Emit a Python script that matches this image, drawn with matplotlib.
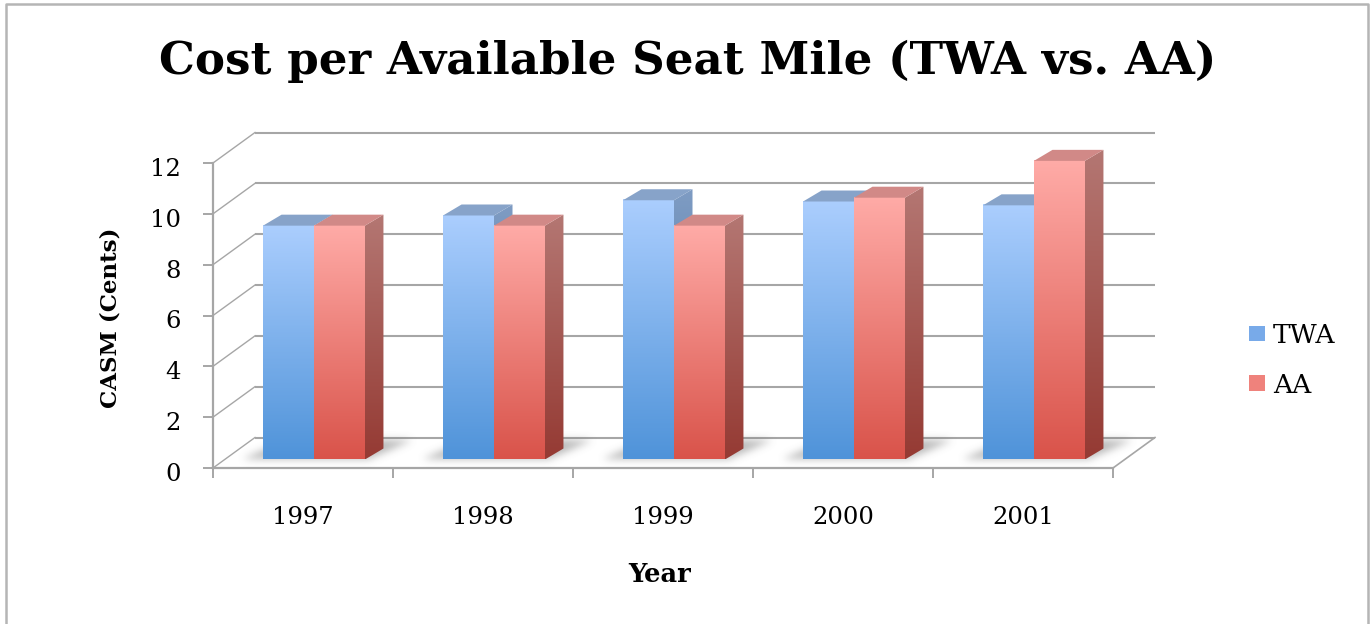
import numpy as np
import matplotlib
matplotlib.use("Agg")
import matplotlib.pyplot as plt
from matplotlib.patches import Polygon, Patch
from matplotlib.lines import Line2D
from matplotlib.path import Path
from matplotlib.transforms import Affine2D, IdentityTransform
from matplotlib.colors import to_rgb

# ---- data -------------------------------------------------------------
years = ["1997", "1998", "1999", "2000", "2001"]
twa_casm = [9.2, 9.6, 10.2, 10.15, 10.0]
aa_casm = [9.2, 9.2, 9.2, 10.3, 11.75]
series_names = ["TWA", "AA"]
y_ticks = [0, 2, 4, 6, 8, 10, 12]

title = "Cost per Available Seat Mile (TWA vs. AA)"
y_label = "CASM (Cents)"
x_label = "Year"

# ---- style ------------------------------------------------------------
W, H, DPI = 1371, 624, 100
SERIF = "DejaVu Serif"
plt.rcParams["font.family"] = [SERIF]

GRID = "#a6a6a6"
BORDER = "#b5b5b5"
# (front bottom, front top, side bottom, side top, top face, legend swatch)
PALETTE = {
    "TWA": ("#4f93d9", "#abcefe", "#3f6fa4", "#7f9cc3", "#87a3c9", "#78aae9"),
    "AA": ("#d9534a", "#ffaba7", "#953a33", "#b47773", "#d18987", "#ef827c"),
}

WALL = np.array([42.0, 30.5])       # depth of the plot box (px)
BAR_SHIFT = np.array([11.0, 8.5])   # columns stand a little behind the front plane
BAR_DEPTH = np.array([18.5, 11.0])  # visible depth of each column (px)
BAR_W = 0.283

fig = plt.figure(figsize=(W / DPI, H / DPI), dpi=DPI)
fig.patch.set_facecolor("white")
ax = fig.add_axes([213 / W, 1 - 468 / H, 900 / W, 305 / H])
ax.set_autoscale_on(False)
ax.set_xlim(0, len(years))
ax.set_ylim(0, 12)
ax.patch.set_visible(False)

_z = [1.0]


def nz():
    _z[0] += 1
    return _z[0]


def shifted(offset):
    return ax.transData + Affine2D().translate(*offset)


def px(x, y, offset=(0.0, 0.0)):
    return ax.transData.transform((x, y)) + np.asarray(offset)


def gradient(c_bottom, c_top, n=256):
    a = np.array(to_rgb(c_bottom))
    b = np.array(to_rgb(c_top))
    t = np.linspace(0, 1, n)[:, None]
    return (a + (b - a) * t)[:, None, :]


# ---- box: back wall, side wall and floor --------------------------------
n_cat = len(years)
for t in y_ticks:
    ax.plot([0, n_cat], [t, t], color=GRID, lw=1.5, transform=shifted(WALL),
            clip_on=False, zorder=nz(), solid_capstyle="butt")
    p = px(0, t)
    ax.add_line(Line2D([p[0], p[0] + WALL[0]], [p[1], p[1] + WALL[1]],
                       transform=IdentityTransform(), color=GRID, lw=1.0,
                       clip_on=False, zorder=nz()))
p = px(n_cat, 0)
ax.add_line(Line2D([p[0], p[0] + WALL[0]], [p[1], p[1] + WALL[1]],
                   transform=IdentityTransform(), color=GRID, lw=1.2,
                   clip_on=False, zorder=nz()))


# ---- soft floor shadows behind each pair of columns ------------------------
def gauss_blur(img, sigma):
    r = int(3 * sigma)
    k = np.exp(-0.5 * (np.arange(-r, r + 1) / sigma) ** 2)
    k /= k.sum()
    img = np.apply_along_axis(lambda m: np.convolve(m, k, mode="same"), 0, img)
    img = np.apply_along_axis(lambda m: np.convolve(m, k, mode="same"), 1, img)
    return img


for i in range(n_cat):
    xl = i + 0.5 - BAR_W
    xr = i + 0.5 + BAR_W
    fl = px(xl, 0, BAR_SHIFT) + np.array([-22.0, -1.0])
    fr = px(xr, 0, BAR_SHIFT) + np.array([2.0, -1.0])
    back = np.array([44.0, 19.0])
    poly = np.array([fl, fr, fr + back, fl + back])
    x0, y0 = poly.min(axis=0) - 12
    x1, y1 = poly.max(axis=0) + 12
    gx, gy = np.meshgrid(np.arange(x0, x1), np.arange(y0, y1))
    inside = Path(poly).contains_points(np.c_[gx.ravel(), gy.ravel()])
    mask = gauss_blur(inside.reshape(gx.shape).astype(float), 4.0)
    rgba = np.zeros(mask.shape + (4,))
    rgba[..., :3] = 0.45
    rgba[..., 3] = 0.5 * mask
    ax.imshow(rgba, origin="lower", extent=(x0, x1, y0, y1),
              transform=IdentityTransform(), aspect="auto",
              interpolation="nearest", clip_on=False, zorder=nz())

# ---- columns -------------------------------------------------------------
bar_trans = shifted(BAR_SHIFT)
for i in range(n_cat):
    for s, (name, values) in enumerate(zip(series_names, [twa_casm, aa_casm])):
        v = values[i]
        fb, ft, sb, st, topc, _ = PALETTE[name]
        x0 = i + 0.5 - BAR_W + s * BAR_W
        x1 = x0 + BAR_W
        # front face
        ax.imshow(gradient(fb, ft), origin="lower", extent=(x0, x1, 0, v),
                  transform=bar_trans, aspect="auto", interpolation="nearest",
                  clip_on=False, zorder=nz())
        # side face: vertical gradient clipped to the parallelogram
        p0 = px(x1, 0, BAR_SHIFT)
        p1 = px(x1, v, BAR_SHIFT)
        side = Polygon([p0, p0 + BAR_DEPTH, p1 + BAR_DEPTH, p1], closed=True,
                       facecolor="none", edgecolor="none",
                       transform=IdentityTransform())
        im = ax.imshow(gradient(sb, st), origin="lower",
                       extent=(p0[0], p0[0] + BAR_DEPTH[0], p0[1],
                               p1[1] + BAR_DEPTH[1]),
                       transform=IdentityTransform(), aspect="auto",
                       interpolation="nearest", clip_path=side, zorder=nz())
        im.set_clip_box(fig.bbox)
        # top face
        a = px(x0, v, BAR_SHIFT)
        b = px(x1, v, BAR_SHIFT)
        ax.add_patch(Polygon([a, b, b + BAR_DEPTH, a + BAR_DEPTH],
                             closed=True, facecolor=topc, edgecolor="none",
                             transform=IdentityTransform(), clip_on=False,
                             zorder=nz()))

# ---- axes, ticks and labels ----------------------------------------------
for side_name in ("top", "right"):
    ax.spines[side_name].set_visible(False)
for side_name in ("left", "bottom"):
    ax.spines[side_name].set_color(GRID)
    ax.spines[side_name].set_linewidth(1.6)

ax.set_yticks(y_ticks)
ax.set_yticklabels([str(t) for t in y_ticks])
ax.tick_params(axis="y", length=7.2, width=1.4, color=GRID, pad=16,
               labelsize=17.5, labelcolor="black")
for lbl in ax.get_yticklabels():
    lbl.set_transform(lbl.get_transform() + Affine2D().translate(0, -4))

ax.set_xticks(range(n_cat + 1))
ax.set_xticklabels([])
ax.set_xticks([i + 0.5 for i in range(n_cat)], minor=True)
ax.set_xticklabels(years, minor=True)
ax.tick_params(axis="x", which="major", length=7.2, width=1.4, color=GRID)
ax.tick_params(axis="x", which="minor", length=0, pad=27, labelsize=17.5,
               labelcolor="black")

fig.text(688 / W, 1 - 74 / H, title, ha="center", va="baseline",
         fontsize=32.5, fontweight="bold")
fig.text(110 / W, 1 - 318 / H, y_label, ha="center", va="center",
         rotation=90, fontsize=16.5, fontweight="bold")
fig.text(660 / W, 1 - 574 / H, x_label, ha="center", va="center",
         fontsize=18.5, fontweight="bold")

handles = [Patch(facecolor=PALETTE[n][5], edgecolor="none") for n in series_names]
fig.legend(handles, series_names, loc="upper left",
           bbox_to_anchor=(1249 / W, 1 - 323 / H), frameon=False,
           fontsize=19, handlelength=0.61, handleheight=0.53,
           handletextpad=0.3, labelspacing=0.93, borderpad=0,
           borderaxespad=0)

# outer chart border (open at the bottom edge)
fig.add_artist(Line2D([6 / W, 6 / W, 1368 / W, 1368 / W],
                      [-0.01, 1 - 4 / H, 1 - 4 / H, -0.01],
                      transform=fig.transFigure, color=BORDER, lw=1.8))

fig.savefig("out.png", dpi=DPI)
